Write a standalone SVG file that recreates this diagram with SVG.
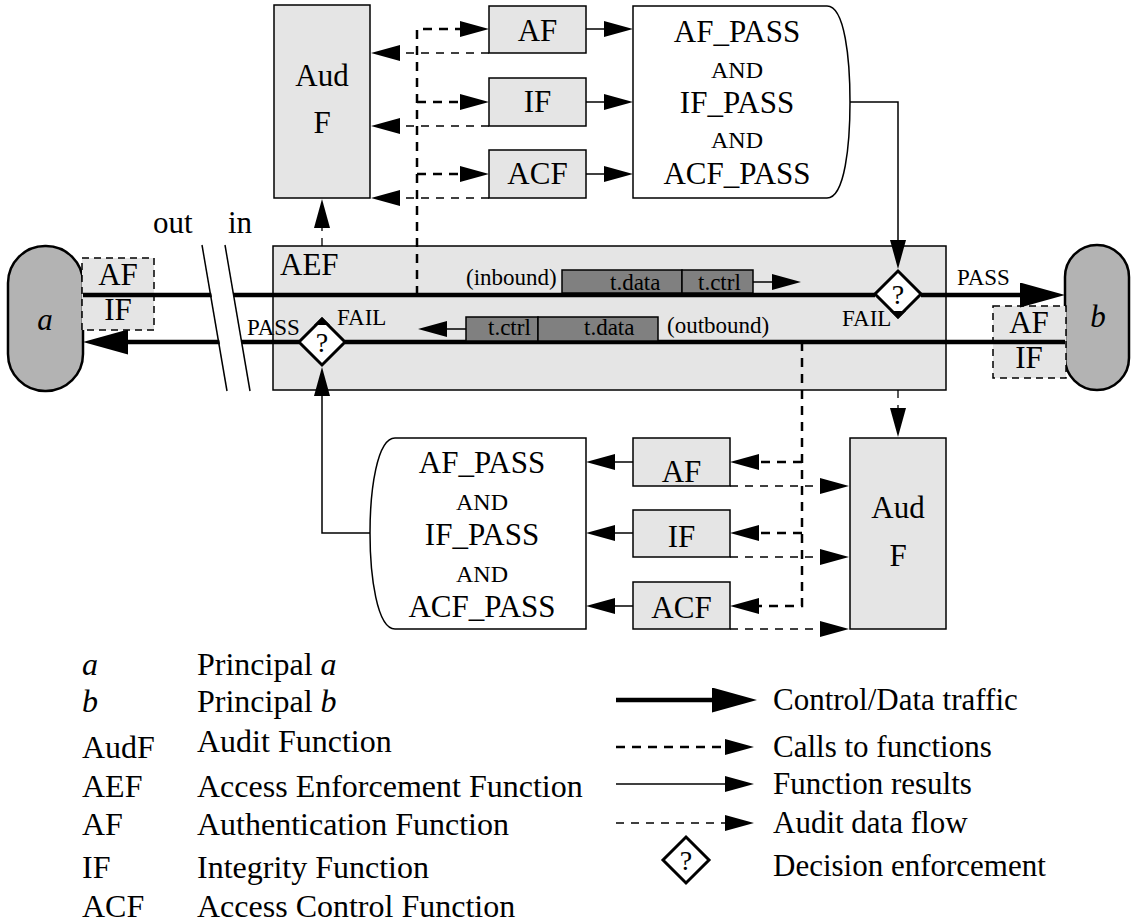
<svg xmlns="http://www.w3.org/2000/svg" width="1134" height="923" viewBox="0 0 1134 923">
<defs>
<style>
text{font-family:"Liberation Serif","Times New Roman",serif;fill:#000}
.t{font-size:31px}
.lg{font-size:32px}
.s{font-size:23px}
.and{font-size:24px}
.q{font-size:28px}
.c{text-anchor:middle}
.box{fill:#e5e5e5;stroke:#000;stroke-width:1.5}
.wbox{fill:#fff;stroke:#000;stroke-width:1.5}
.prin{fill:#b3b3b3;stroke:#000;stroke-width:2.5}
.dbox{fill:#e5e5e5;stroke:#000;stroke-width:1.5;stroke-dasharray:7 5}
.pkt{fill:#808080;stroke:#000;stroke-width:1.5}
.ctl{fill:none;stroke:#000;stroke-width:4.5}
.res{fill:none;stroke:#000;stroke-width:1.5}
.call{fill:none;stroke:#000;stroke-width:2.5;stroke-dasharray:9 7}
.aud{fill:none;stroke:#000;stroke-width:1.3;stroke-dasharray:8 7}
.dia{fill:#fff;stroke:#000;stroke-width:3}
</style>
<marker id="big" markerUnits="userSpaceOnUse" markerWidth="45" markerHeight="25" refX="0" refY="12.5" orient="auto" viewBox="0 0 45 25"><path d="M0,0 L45,12.5 L0,25 Z" fill="#000"/></marker>
<marker id="sm" markerUnits="userSpaceOnUse" markerWidth="29" markerHeight="16" refX="0" refY="8" orient="auto" viewBox="0 0 29 16"><path d="M0,0 L29,8 L0,16 Z" fill="#000"/></marker>
</defs>

<g id="aef">
<rect class="box" x="273" y="246" width="673" height="144"/>
<text class="t" x="280" y="275">AEF</text>
</g>

<g id="principal-a">
<rect class="prin" x="8" y="246" width="75" height="145" rx="37" ry="37"/>
<text class="t c" x="45" y="330" font-style="italic">a</text>
</g>
<g id="a-afif">
<rect class="dbox" x="82" y="258" width="72" height="72"/>
<text class="t c" x="118" y="285">AF</text>
<text class="t c" x="118" y="320">IF</text>
</g>

<g id="principal-b">
<rect class="prin" x="1065" y="245" width="64" height="145" rx="32" ry="32"/>
<text class="t c" x="1098" y="327" font-style="italic">b</text>
</g>
<g id="b-afif">
<rect class="dbox" x="993" y="306" width="73" height="72"/>
<text class="t c" x="1029" y="333">AF</text>
<text class="t c" x="1029" y="368">IF</text>
</g>

<g id="connectors">
<path class="ctl" d="M83,295 H875"/>
<path class="ctl" d="M921,295 H1020" marker-end="url(#big)"/>
<path class="ctl" d="M1065,342 H345"/>
<path class="ctl" d="M299,342 H128" marker-end="url(#big)"/>
<polygon points="203,245 225,245 250,391 228,391" fill="#fff"/>
<line x1="202" y1="245" x2="227" y2="391" stroke="#000" stroke-width="1.5"/>
<line x1="225" y1="245" x2="250" y2="391" stroke="#000" stroke-width="1.5"/>
<path class="res" d="M753,282 H772" marker-end="url(#sm)"/>
<path class="res" d="M466,329 H447" marker-end="url(#sm)"/>
<path class="res" d="M586,29 H604" marker-end="url(#sm)"/>
<path class="res" d="M586,102 H604" marker-end="url(#sm)"/>
<path class="res" d="M586,174 H604" marker-end="url(#sm)"/>
<path class="res" d="M850,102 H898 V240" marker-end="url(#sm)"/>
<path class="res" d="M633,462 H615" marker-end="url(#sm)"/>
<path class="res" d="M633,533 H615" marker-end="url(#sm)"/>
<path class="res" d="M633,606 H615" marker-end="url(#sm)"/>
<path class="res" d="M370,533 H322 V396" marker-end="url(#sm)"/>
<path class="call" d="M417,295 V29 H460" marker-end="url(#sm)"/>
<path class="call" d="M417,102 H460" marker-end="url(#sm)"/>
<path class="call" d="M417,174 H460" marker-end="url(#sm)"/>
<path class="call" d="M802,342 V606 H759" marker-end="url(#sm)"/>
<path class="call" d="M802,462 H759" marker-end="url(#sm)"/>
<path class="call" d="M802,533 H759" marker-end="url(#sm)"/>
<path class="aud" d="M489,53 H400" marker-end="url(#sm)"/>
<path class="aud" d="M489,126 H400" marker-end="url(#sm)"/>
<path class="aud" d="M489,198 H400" marker-end="url(#sm)"/>
<path class="aud" d="M322,246 V228" marker-end="url(#sm)"/>
<path class="aud" d="M730,486 H820" marker-end="url(#sm)"/>
<path class="aud" d="M730,557 H820" marker-end="url(#sm)"/>
<path class="aud" d="M730,629 H820" marker-end="url(#sm)"/>
<path class="aud" d="M898,390 V408" marker-end="url(#sm)"/>
</g>

<g id="packets-in">
<rect class="pkt" x="562" y="270" width="120" height="23"/>
<rect class="pkt" x="682" y="270" width="71" height="23"/>
<text class="s" x="466" y="285">(inbound)</text>
<text class="s" x="610" y="290">t.data</text>
<text class="s" x="698" y="290">t.ctrl</text>
</g>
<g id="packets-out">
<rect class="pkt" x="466" y="317" width="72" height="24"/>
<rect class="pkt" x="538" y="317" width="120" height="24"/>
<text class="s" x="488" y="335">t.ctrl</text>
<text class="s" x="584" y="335">t.data</text>
<text class="s" x="667" y="333">(outbound)</text>
</g>

<g id="break-labels">
<text class="t" x="153" y="233">out</text>
<text class="t" x="228" y="233">in</text>
</g>

<g id="decision-in">
<polygon class="dia" points="898,271 921,294 898,317 875,294"/>
<polygon points="898,319 890,311 906,311" fill="#000"/>
<text class="q c" x="898" y="304">?</text>
<text class="s" x="842" y="326">FAIL</text>
<text class="s" x="957" y="285">PASS</text>
</g>
<g id="decision-out">
<polygon class="dia" points="322,319 345,342 322,365 299,342"/>
<polygon points="322,317 314,325 330,325" fill="#000"/>
<text class="q c" x="322" y="352">?</text>
<text class="s" x="247" y="335">PASS</text>
<text class="s" x="337" y="325">FAIL</text>
</g>

<g id="audf-top">
<rect class="box" x="274" y="5" width="96" height="193"/>
<text class="t c" x="322" y="86">Aud</text>
<text class="t c" x="322" y="133">F</text>
</g>
<g id="af-top">
<rect class="box" x="489" y="6" width="97" height="47"/>
<text class="t c" x="537.5" y="41">AF</text>
</g>
<g id="if-top">
<rect class="box" x="489" y="78" width="97" height="48"/>
<text class="t c" x="537.5" y="112">IF</text>
</g>
<g id="acf-top">
<rect class="box" x="489" y="150" width="97" height="48"/>
<text class="t c" x="537.5" y="184">ACF</text>
</g>
<g id="and-top">
<path class="wbox" d="M633,6 H827 C845,6 850,60 850,102 C850,144 845,198 827,198 H633 Z"/>
<text class="t c" x="737" y="42">AF_PASS</text>
<text class="and c" x="737" y="78">AND</text>
<text class="t c" x="737" y="113">IF_PASS</text>
<text class="and c" x="737" y="148">AND</text>
<text class="t c" x="737" y="184">ACF_PASS</text>
</g>

<g id="audf-bottom">
<rect class="box" x="850" y="438" width="96" height="191"/>
<text class="t c" x="898" y="518">Aud</text>
<text class="t c" x="898" y="566">F</text>
</g>
<g id="af-bottom">
<rect class="box" x="633" y="438" width="97" height="48"/>
<text class="t c" x="681.5" y="482">AF</text>
</g>
<g id="if-bottom">
<rect class="box" x="633" y="510" width="97" height="47"/>
<text class="t c" x="681.5" y="547">IF</text>
</g>
<g id="acf-bottom">
<rect class="box" x="633" y="582" width="97" height="47"/>
<text class="t c" x="681.5" y="618">ACF</text>
</g>
<g id="and-bottom">
<path class="wbox" d="M586,438 H395 C377,438 370,490 370,533 C370,576 377,629 395,629 H586 Z"/>
<text class="t c" x="482" y="473">AF_PASS</text>
<text class="and c" x="482" y="510">AND</text>
<text class="t c" x="482" y="545">IF_PASS</text>
<text class="and c" x="482" y="582">AND</text>
<text class="t c" x="482" y="617">ACF_PASS</text>
</g>

<g id="legend-left">
<text class="lg" x="82" y="675" font-style="italic">a</text>
<text class="lg" x="197" y="675">Principal <tspan font-style="italic">a</tspan></text>
<text class="lg" x="82" y="712" font-style="italic">b</text>
<text class="lg" x="197" y="712">Principal <tspan font-style="italic">b</tspan></text>
<text class="lg" x="82" y="758">AudF</text>
<text class="lg" x="197" y="752">Audit Function</text>
<text class="lg" x="82" y="797">AEF</text>
<text class="lg" x="197" y="797">Access Enforcement Function</text>
<text class="lg" x="82" y="835">AF</text>
<text class="lg" x="197" y="835">Authentication Function</text>
<text class="lg" x="82" y="878">IF</text>
<text class="lg" x="197" y="878">Integrity Function</text>
<text class="lg" x="82" y="917">ACF</text>
<text class="lg" x="197" y="917">Access Control Function</text>
</g>

<g id="legend-right">
<path class="ctl" d="M616,700 H712" marker-end="url(#big)"/>
<text class="t" x="773" y="710">Control/Data traffic</text>
<path class="call" d="M616,747 H725" marker-end="url(#sm)"/>
<text class="t" x="773" y="757">Calls to functions</text>
<path class="res" d="M616,784 H725" marker-end="url(#sm)"/>
<text class="t" x="773" y="794">Function results</text>
<path class="aud" d="M616,823 H725" marker-end="url(#sm)"/>
<text class="t" x="773" y="833">Audit data flow</text>
<polygon class="dia" points="686,837 709,860 686,883 663,860"/>
<text class="q c" x="686" y="870">?</text>
<text class="t" x="773" y="876">Decision enforcement</text>
</g>
</svg>
